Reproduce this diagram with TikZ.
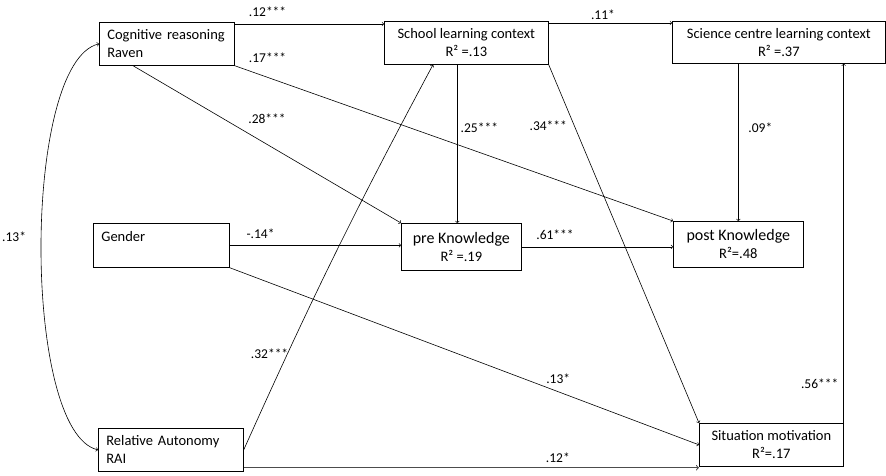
\documentclass[tikz,border=0pt]{standalone}
\usepackage{fontspec}
\setmainfont{Carlito}
\usepackage{tikz}
\usetikzlibrary{arrows}
\tikzstyle{box} = [draw,line width=0.7pt,anchor=north west,inner xsep=8pt,font=\fontsize{14.5}{18}\selectfont]
\tikzstyle{lbox} = [box,align=left]
\tikzstyle{cbox} = [box,align=center]
\tikzstyle{arrow} = [line width=0.6pt,->,>=to]
\tikzstyle{coef} = [font=\fontsize{13.5}{16}\selectfont]

\begin{document}
\begin{tikzpicture}[x=1pt,y=-1pt]
  \useasboundingbox (0,0) rectangle (886,475);
  % boxes
  \node[lbox,minimum width=135,minimum height=43,text width=119] (cog) at (99,22) {Cognitive reasoning\\Raven};
  \node[cbox,minimum width=164,minimum height=43] (school) at (384,21) {School learning context\\R² =.13};
  \node[cbox,minimum width=213,minimum height=42] (science) at (672,21) {Science centre learning context\\R² =.37};
  \node[lbox,minimum width=136,minimum height=44,text width=120] (gender) at (93,223) {Gender\\~};
  \node[cbox,minimum width=120,minimum height=47] (pre) at (401,223) {{\fontsize{16}{19}\selectfont pre Knowledge}\\R² =.19};
  \node[cbox,minimum width=130,minimum height=46] (post) at (673,221) {{\fontsize{16}{19}\selectfont post Knowledge}\\R²=.48};
  \node[cbox,minimum width=144,minimum height=43] (situation) at (699,423) {Situation motivation\\R²=.17};
  \node[lbox,minimum width=145,minimum height=43,text width=129] (rai) at (98,428) {Relative Autonomy\\RAI};

  % paths
  \draw[arrow] ([yshift=-2pt]cog.north east) -- ([yshift=-3pt]school.north west) node[coef,pos=.22,yshift=12pt] {.12***};
  \draw[arrow] (cog.south east) -- (post.north west) node[coef,pos=.075,yshift=20pt] {.17***};
  \draw[arrow] ([xshift=34pt]cog.south west) -- (pre.north west) node[coef,pos=.5,yshift=26pt] {.28***};
  \draw[arrow] ([yshift=-2pt]school.north east) -- ([yshift=-2pt]science.north west) node[coef,pos=.44,yshift=8pt] {.11*};
  \draw[arrow] ([xshift=-9pt]school.south) -- ([xshift=-4pt]pre.north) node[coef,pos=.4,xshift=22pt] {.25***};
  \draw[arrow] (school.south east) -- (situation.north west) node[coef,pos=.17,xshift=-26pt] {.34***};
  \draw[arrow] (science.south -| post.north) -- (post.north) node[coef,pos=.41,xshift=22pt] {.09*};
  \draw[arrow] (gender.east) -- (gender.east -| pre.west) node[coef,pos=.18,yshift=12pt] {-.14*};
  \draw[arrow] (gender.south east) -- (situation.west) node[coef,pos=.7,yshift=13pt] {.13*};
  \draw[arrow] (pre.east) -- (pre.east -| post.west) node[coef,pos=.22,yshift=12pt] {.61***};
  \draw[arrow] (rai.east) to[bend left=2] node[coef,pos=.23,xshift=-18pt] {.32***} ([xshift=49pt]school.south west);
  \draw[arrow,line width=1pt,black!70] ([yshift=4pt]rai.south east) -- ([yshift=-1pt]situation.south west) node[coef,black,pos=.69,yshift=10pt] {.12*};
  \draw[arrow] (situation.north east) -- (situation.north east |- science.south) node[coef,pos=.11,xshift=-24pt] {.56***};
  \draw[arrow,<->] (cog.west) .. controls (22,62) and (22,432) .. (rai.west) node[coef,pos=.5,xshift=-27pt,yshift=10pt] {.13*};
\end{tikzpicture}
\end{document}
